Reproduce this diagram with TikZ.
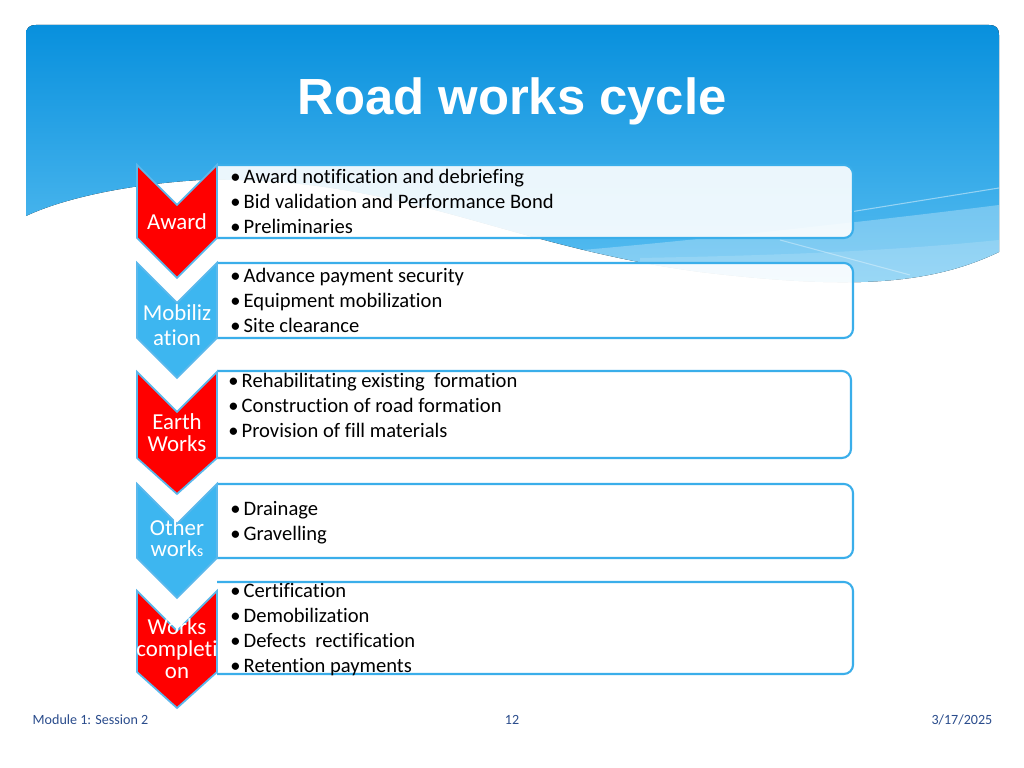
\documentclass[tikz,border=0pt]{standalone}
\usepackage{fontspec}
\setmainfont{Carlito}[Ligatures=NoCommon]
\newfontfamily\titlefont{Liberation Sans}
\newcommand{\bul}{\makebox[0.13cm][r]{\textbullet\hspace{0.032cm}}}
\begin{document}
\begin{tikzpicture}[x=0.01cm,y=-0.01cm]
\definecolor{hdrtop}{HTML}{0890DD}
\definecolor{hdrbot}{HTML}{5CC0F2}
\definecolor{boxline}{HTML}{3AAEEA}
\definecolor{chevblue}{HTML}{3DB6F0}
\definecolor{chevred}{HTML}{FF0000}
\definecolor{chevline}{HTML}{5AB8EC}
\definecolor{foot}{HTML}{2A4C8C}
\tikzset{
 stepbox/.style={draw=boxline, line width=0.6pt, fill=white, fill opacity=0.9, rounded corners=2.6pt},
 chev/.style={draw=chevline, line width=0.5pt},
 item/.style={anchor=base west, inner sep=0pt, font=\fontsize{5.85}{7}\selectfont, text=black},
 chevtext/.style={anchor=base, inner sep=0pt, font=\fontsize{6.5}{7.5}\selectfont, text=white},
 foottext/.style={inner sep=0pt, font=\fontsize{4}{5}\selectfont, text=foot},
}
\useasboundingbox (0,0) rectangle (1024,768);
\fill[white] (0,0) rectangle (1024,768);
% header
\def\hdrpath{(26,216) -- (26,35) .. controls (26,28) and (29,25) .. (36,25) -- (989,25) .. controls (996,25) and (999,28) .. (999,35) -- (999,252) .. controls (930,285) and (850,290) .. (700,272) .. controls (500,245) and (400,175) .. (200,180) .. controls (120,185) and (60,200) .. (26,216) -- cycle}
\fill[top color=hdrtop, bottom color=hdrbot] \hdrpath;
\begin{scope}
\clip \hdrpath;
\fill[white, opacity=0.28] (999,205) .. controls (880,220) and (700,240) .. (560,252) -- (560,320) -- (999,320) -- cycle;
\fill[white, opacity=0.15] (999,240) .. controls (900,250) and (800,255) .. (640,258) -- (640,320) -- (999,320) -- cycle;
\draw[white, opacity=0.45, line width=0.3pt] (850,212) -- (999,188);
\draw[white, opacity=0.35, line width=0.3pt] (780,240) -- (910,275);
\end{scope}
\node[anchor=base, inner sep=0pt, text=white, font={\titlefont\bfseries\fontsize{14.45}{16}\selectfont}] (title) at (512,115) {Road works cycle};
% boxes
\begin{scope}
\clip (217,0) rectangle (1024,768);
\draw[stepbox] (190,165) rectangle (853,238);
\draw[stepbox] (190,263) rectangle (853,338);
\draw[stepbox] (190,371) rectangle (851,458);
\draw[stepbox] (190,484) rectangle (853,558);
\draw[stepbox] (190,582) rectangle (853,674);
\end{scope}
% chevrons
\draw[chev, fill=chevred]  (137,165) -- (177,205) -- (217,165) -- (217,238) -- (177,278) -- (137,238) -- cycle;
\draw[chev, fill=chevblue] (137,263) -- (177,303) -- (217,263) -- (217,338) -- (177,378) -- (137,338) -- cycle;
\draw[chev, fill=chevred]  (137,372) -- (177,412) -- (217,372) -- (217,458) -- (177,494) -- (137,458) -- cycle;
\draw[chev, fill=chevblue] (137,484) -- (177,524) -- (217,484) -- (217,558) -- (177,598) -- (137,558) -- cycle;
\draw[chev, fill=chevred]  (137,591) -- (177,631) -- (217,591) -- (217,672) -- (177,708) -- (137,672) -- cycle;
% chevron labels
\node[chevtext] (c1) at (177,230) {Award};
\node[chevtext] (c2a) at (177,321) {Mobiliz};
\node[chevtext] (c2b) at (177,346) {ation};
\node[chevtext] (c3a) at (177,430) {Earth};
\node[chevtext] (c3b) at (177,452) {Works};
\node[chevtext] (c4a) at (177,536) {Other};
\node[chevtext] (c4b) at (177,557) {work{\fontsize{4.5}{5}\selectfont s}};
\node[chevtext] (c5a) at (177,635) {Works};
\node[chevtext] (c5b) at (177,657) {completi};
\node[chevtext] (c5c) at (177,679) {on};
% items
\node[item] (b1a) at (230,183.5) {\bul Award notification and debriefing};
\node[item] (b1b) at (230,208.5) {\bul Bid validation and Performance Bond};
\node[item] (b1c) at (230,234) {\bul Preliminaries};
\node[item] (b2a) at (230,283) {\bul Advance payment security};
\node[item] (b2b) at (230,308) {\bul Equipment mobilization};
\node[item] (b2c) at (230,333) {\bul Site clearance};
\node[item] (b3a) at (228,387.5) {\bul Rehabilitating existing~ formation};
\node[item] (b3b) at (228,412.5) {\bul Construction of road formation};
\node[item] (b3c) at (228,437.5) {\bul Provision of fill materials};
\node[item] (b4a) at (230,515.5) {\bul Drainage};
\node[item] (b4b) at (230,540.5) {\bul Gravelling};
\node[item] (b5a) at (230,597.5) {\bul Certification};
\node[item] (b5b) at (230,622.5) {\bul Demobilization};
\node[item] (b5c) at (230,647.5) {\bul Defects~ rectification};
\node[item] (b5d) at (230,672.5) {\bul Retention payments};
% footer
\node[foottext, anchor=base west] (f1) at (32,725) {Module 1: Session 2};
\node[foottext, anchor=base] (f2) at (512,725) {12};
\node[foottext, anchor=base east] (f3) at (993,725) {3/17/2025};
\end{tikzpicture}
\end{document}
